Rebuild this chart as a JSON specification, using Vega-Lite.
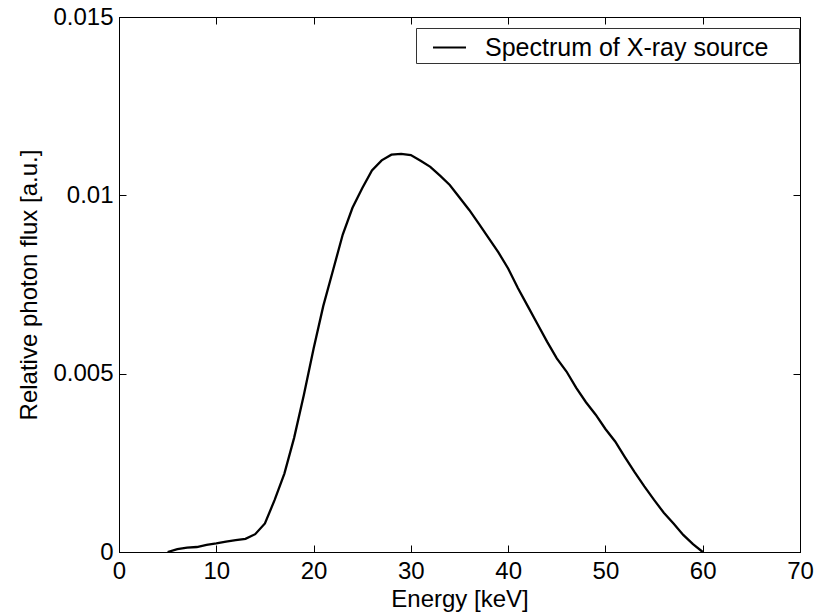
{
  "$schema": "https://vega.github.io/schema/vega-lite/v6.json",
  "width": 681,
  "height": 535,
  "autosize": "none",
  "padding": {"left": 119, "top": 17, "right": 22, "bottom": 62},
  "background": "white",
  "config": {
    "view": {"stroke": "black", "strokeWidth": 1},
    "font": "Liberation Sans",
    "axis": {
      "grid": false,
      "domainColor": "black",
      "tickColor": "black",
      "tickSize": -7,
      "labelColor": "black",
      "titleColor": "black",
      "labelFont": "Liberation Sans",
      "titleFont": "Liberation Sans",
      "labelFontSize": 24,
      "titleFontSize": 24,
      "titleFontWeight": "normal"
    }
  },
  "data": {
    "values": [
      {"e": 5, "flux": 0, "series": "Spectrum of X-ray source"},
      {"e": 6, "flux": 0.00008, "series": "Spectrum of X-ray source"},
      {"e": 7, "flux": 0.00012, "series": "Spectrum of X-ray source"},
      {"e": 8, "flux": 0.00014, "series": "Spectrum of X-ray source"},
      {"e": 9, "flux": 0.0002, "series": "Spectrum of X-ray source"},
      {"e": 10, "flux": 0.00024, "series": "Spectrum of X-ray source"},
      {"e": 11, "flux": 0.00029, "series": "Spectrum of X-ray source"},
      {"e": 12, "flux": 0.00033, "series": "Spectrum of X-ray source"},
      {"e": 13, "flux": 0.00037, "series": "Spectrum of X-ray source"},
      {"e": 14, "flux": 0.0005, "series": "Spectrum of X-ray source"},
      {"e": 15, "flux": 0.0008, "series": "Spectrum of X-ray source"},
      {"e": 16, "flux": 0.00146, "series": "Spectrum of X-ray source"},
      {"e": 17, "flux": 0.0022, "series": "Spectrum of X-ray source"},
      {"e": 18, "flux": 0.0032, "series": "Spectrum of X-ray source"},
      {"e": 19, "flux": 0.0044, "series": "Spectrum of X-ray source"},
      {"e": 20, "flux": 0.0057, "series": "Spectrum of X-ray source"},
      {"e": 21, "flux": 0.0069, "series": "Spectrum of X-ray source"},
      {"e": 22, "flux": 0.0079, "series": "Spectrum of X-ray source"},
      {"e": 23, "flux": 0.0089, "series": "Spectrum of X-ray source"},
      {"e": 24, "flux": 0.00965, "series": "Spectrum of X-ray source"},
      {"e": 25, "flux": 0.0102, "series": "Spectrum of X-ray source"},
      {"e": 26, "flux": 0.0107, "series": "Spectrum of X-ray source"},
      {"e": 27, "flux": 0.01098, "series": "Spectrum of X-ray source"},
      {"e": 28, "flux": 0.01114, "series": "Spectrum of X-ray source"},
      {"e": 29, "flux": 0.01116, "series": "Spectrum of X-ray source"},
      {"e": 30, "flux": 0.01113, "series": "Spectrum of X-ray source"},
      {"e": 31, "flux": 0.01097, "series": "Spectrum of X-ray source"},
      {"e": 32, "flux": 0.0108, "series": "Spectrum of X-ray source"},
      {"e": 33, "flux": 0.01055, "series": "Spectrum of X-ray source"},
      {"e": 34, "flux": 0.01029, "series": "Spectrum of X-ray source"},
      {"e": 35, "flux": 0.00994, "series": "Spectrum of X-ray source"},
      {"e": 36, "flux": 0.00959, "series": "Spectrum of X-ray source"},
      {"e": 37, "flux": 0.0092, "series": "Spectrum of X-ray source"},
      {"e": 38, "flux": 0.0088, "series": "Spectrum of X-ray source"},
      {"e": 39, "flux": 0.0084, "series": "Spectrum of X-ray source"},
      {"e": 40, "flux": 0.00795, "series": "Spectrum of X-ray source"},
      {"e": 41, "flux": 0.0074, "series": "Spectrum of X-ray source"},
      {"e": 42, "flux": 0.0069, "series": "Spectrum of X-ray source"},
      {"e": 43, "flux": 0.0064, "series": "Spectrum of X-ray source"},
      {"e": 44, "flux": 0.0059, "series": "Spectrum of X-ray source"},
      {"e": 45, "flux": 0.00543, "series": "Spectrum of X-ray source"},
      {"e": 46, "flux": 0.00506, "series": "Spectrum of X-ray source"},
      {"e": 47, "flux": 0.0046, "series": "Spectrum of X-ray source"},
      {"e": 48, "flux": 0.0042, "series": "Spectrum of X-ray source"},
      {"e": 49, "flux": 0.00385, "series": "Spectrum of X-ray source"},
      {"e": 50, "flux": 0.00345, "series": "Spectrum of X-ray source"},
      {"e": 51, "flux": 0.0031, "series": "Spectrum of X-ray source"},
      {"e": 52, "flux": 0.00266, "series": "Spectrum of X-ray source"},
      {"e": 53, "flux": 0.00224, "series": "Spectrum of X-ray source"},
      {"e": 54, "flux": 0.00184, "series": "Spectrum of X-ray source"},
      {"e": 55, "flux": 0.00146, "series": "Spectrum of X-ray source"},
      {"e": 56, "flux": 0.0011, "series": "Spectrum of X-ray source"},
      {"e": 57, "flux": 0.0008, "series": "Spectrum of X-ray source"},
      {"e": 58, "flux": 0.00048, "series": "Spectrum of X-ray source"},
      {"e": 59, "flux": 0.00022, "series": "Spectrum of X-ray source"},
      {"e": 60, "flux": 0, "series": "Spectrum of X-ray source"}
    ]
  },
  "layer": [
    {
      "mark": {"type": "line", "strokeWidth": 2.3, "clip": true},
      "encoding": {
        "x": {
          "field": "e", "type": "quantitative",
          "scale": {"domain": [0, 70], "nice": false, "zero": false},
          "axis": {
            "title": "Energy [keV]",
            "values": [0, 10, 20, 30, 40, 50, 60, 70],
            "labelPadding": 14,
            "titlePadding": 4,
            "labelFlush": false
          }
        },
        "y": {
          "field": "flux", "type": "quantitative",
          "scale": {"domain": [0, 0.015], "nice": false},
          "axis": {
            "title": "Relative photon flux [a.u.]",
            "values": [0, 0.005, 0.01, 0.015],
            "format": ".3~f",
            "labelPadding": 13,
            "titlePadding": 11,
            "labelFlush": false
          }
        },
        "color": {
          "field": "series", "type": "nominal",
          "scale": {"range": ["black"]},
          "legend": {
            "title": "\u00a0",
            "titleOrient": "right",
            "titlePadding": 29,
            "titleFontSize": 8,
            "orient": "none",
            "legendX": 297,
            "legendY": 11,
            "symbolType": "stroke",
            "symbolSize": 1089,
            "symbolStrokeWidth": 2,
            "symbolOffset": 14,
            "labelOffset": 18,
            "labelFontSize": 25,
            "labelFont": "Liberation Sans",
            "labelColor": "black",
            "labelLimit": 400,
            "padding": 2,
            "strokeColor": "#333333",
            "fillColor": "white"
          }
        }
      }
    },
    {
      "mark": {"type": "line", "opacity": 0},
      "encoding": {
        "x": {
          "field": "e", "type": "quantitative",
          "axis": {"orient": "top", "title": null, "labels": false, "values": [0, 10, 20, 30, 40, 50, 60, 70]}
        },
        "y": {
          "field": "flux", "type": "quantitative",
          "axis": {"orient": "right", "title": null, "labels": false, "values": [0, 0.005, 0.01, 0.015]}
        }
      }
    }
  ],
  "resolve": {"axis": {"x": "independent", "y": "independent"}}
}
